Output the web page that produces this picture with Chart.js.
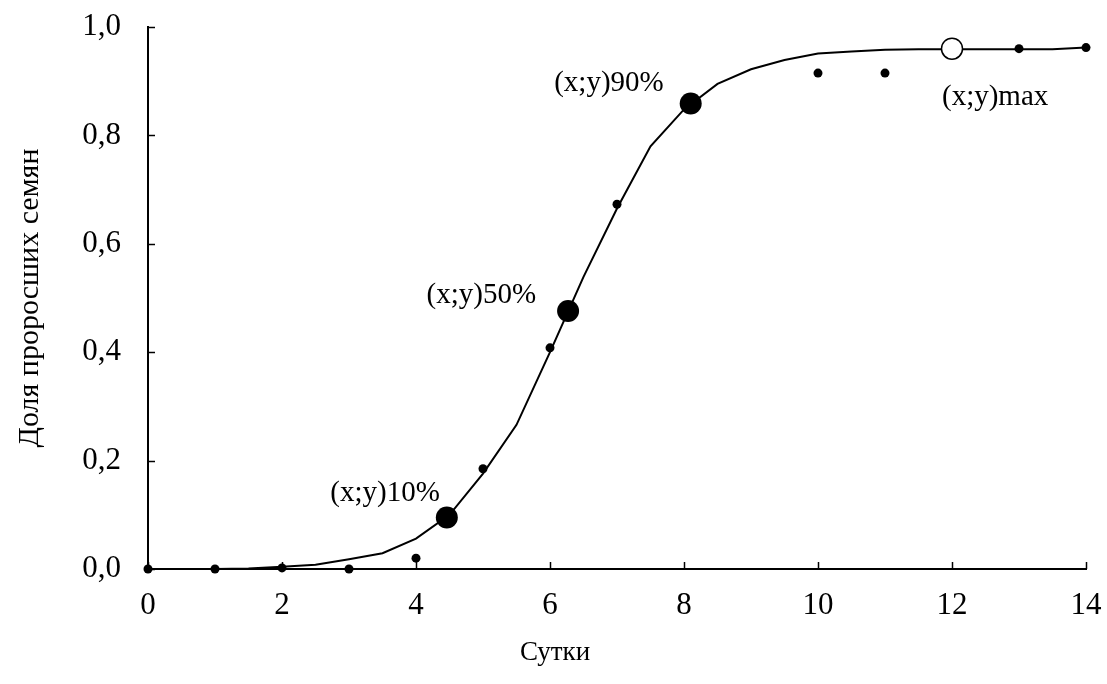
<!DOCTYPE html>
<html>
<head>
<meta charset="utf-8">
<script src="https://cdn.jsdelivr.net/npm/chart.js@4/dist/chart.umd.min.js"></script>
<style>
  html, body { margin: 0; padding: 0; background: #fff; }
  #wrap { width: 1107px; height: 684px; position: relative; }
</style>
</head>
<body>
<div id="wrap"><canvas id="c" width="1107" height="684"></canvas></div>
<script>
// Observed germination share by day
const obsDays  = [0, 1, 2, 3, 4, 5, 6, 7, 10, 11, 13, 14];
const obsShare = [0, 0, 0.002, 0, 0.020, 0.185, 0.408, 0.673, 0.915, 0.915, 0.960, 0.962];

// Fitted curve (half-day nodes)
const fitDays  = [0, 0.5, 1, 1.5, 2, 2.5, 3, 3.5, 4, 4.5, 5, 5.5, 6, 6.5, 7, 7.5,
                  8, 8.5, 9, 9.5, 10, 10.5, 11, 11.5, 12, 12.5, 13, 13.5, 14];
const fitShare = [0, 0, 0, 0.001, 0.004, 0.008, 0.018, 0.029, 0.056, 0.100, 0.176, 0.266,
                  0.400, 0.539, 0.665, 0.780, 0.848, 0.895, 0.922, 0.939, 0.951, 0.955,
                  0.958, 0.959, 0.959, 0.959, 0.959, 0.959, 0.962];

// Characteristic points on the curve
const keyNames = ['(x;y)10%', '(x;y)50%', '(x;y)90%', '(x;y)max'];
const keyDays  = [4.46, 6.27, 8.10, 12.0];
const keyShare = [0.095, 0.476, 0.859, 0.960];

// Axis ticks
const xTickValues = [0, 2, 4, 6, 8, 10, 12, 14];
const yTickValues = [0, 0.2, 0.4, 0.6, 0.8, 1.0];

const FONT = '"Liberation Serif", "Times New Roman", serif';

const pts = (xs, ys) => xs.map((v, i) => ({ x: v, y: ys[i] }));

// label placement relative to its marker: [dx, dy, align]
const labelPlacement = [
  [-7, -24, 'right'],
  [-32, -16, 'right'],
  [-27, -20, 'right'],
  [-10, 49, 'left']
];

const decor = {
  id: 'decor',
  beforeDatasetsDraw(chart) {
    const { ctx, scales: { x, y } } = chart;
    ctx.save();
    ctx.strokeStyle = '#000';
    ctx.lineWidth = 1.5;
    yTickValues.forEach(v => {
      const py = Math.round(y.getPixelForValue(v)) + 0.5;
      ctx.beginPath(); ctx.moveTo(x.left, py); ctx.lineTo(x.left + 7, py); ctx.stroke();
    });
    xTickValues.forEach(v => {
      const px = Math.round(x.getPixelForValue(v)) + 0.5;
      ctx.beginPath(); ctx.moveTo(px, y.bottom); ctx.lineTo(px, y.bottom - 7); ctx.stroke();
    });
    ctx.restore();
  },
  afterDraw(chart) {
    const { ctx, scales: { x, y } } = chart;
    ctx.save();
    ctx.fillStyle = '#000';
    ctx.font = '29px ' + FONT;
    ctx.textBaseline = 'middle';
    keyNames.forEach((t, i) => {
      const [dx, dy, al] = labelPlacement[i];
      ctx.textAlign = al;
      ctx.fillText(t, x.getPixelForValue(keyDays[i]) + dx, y.getPixelForValue(keyShare[i]) + dy);
    });
    // horizontal axis title
    ctx.textAlign = 'center';
    ctx.font = '27px ' + FONT;
    ctx.fillText('Сутки', 555, 653);
    ctx.restore();
  }
};

new Chart(document.getElementById('c'), {
  type: 'scatter',
  data: {
    datasets: [
      {
        type: 'line',
        data: pts(fitDays, fitShare),
        borderColor: '#000',
        borderWidth: 2,
        pointRadius: 0,
        tension: 0,
        fill: false,
        clip: false,
        order: 3
      },
      {
        data: pts(obsDays, obsShare),
        backgroundColor: '#000',
        borderColor: '#000',
        pointRadius: 4.5,
        pointBorderWidth: 0,
        clip: false,
        order: 2
      },
      {
        data: pts(keyDays.slice(0, 3), keyShare.slice(0, 3)),
        backgroundColor: '#000',
        borderColor: '#000',
        pointRadius: 11,
        pointBorderWidth: 0,
        clip: false,
        order: 1
      },
      {
        data: pts(keyDays.slice(3), keyShare.slice(3)),
        backgroundColor: '#fff',
        borderColor: '#000',
        pointRadius: 10.5,
        pointBorderWidth: 1.5,
        clip: false,
        order: 0
      }
    ]
  },
  options: {
    responsive: false,
    animation: false,
    devicePixelRatio: 1,
    layout: { padding: { top: 27, right: 21, left: 0, bottom: 0 } },
    plugins: { legend: { display: false }, tooltip: { enabled: false } },
    scales: {
      x: {
        type: 'linear',
        min: 0, max: 14,
        afterBuildTicks: s => { s.ticks = xTickValues.map(v => ({ value: v })); },
        afterFit: s => { s.height = 115; s.paddingLeft = 0; s.paddingRight = 0; },
        ticks: {
          color: '#000',
          font: { family: FONT, size: 31 },
          padding: 18,
          maxRotation: 0,
          callback: v => String(v)
        },
        grid: { display: false, drawTicks: false },
        border: { display: true, color: '#000', width: 2 }
      },
      y: {
        min: 0, max: 1,
        afterBuildTicks: s => { s.ticks = yTickValues.map(v => ({ value: v })); },
        afterFit: s => { s.width = 148; s.paddingTop = 0; s.paddingBottom = 0; },
        ticks: {
          color: '#000',
          font: { family: FONT, size: 31 },
          padding: 27,
          callback: v => Number(v).toFixed(1).replace('.', ',')
        },
        grid: { display: false, drawTicks: false },
        border: { display: true, color: '#000', width: 2 },
        title: {
          display: true,
          text: 'Доля проросших семян',
          color: '#000',
          font: { family: FONT, size: 30 },
          padding: { top: 12, bottom: 0 }
        }
      }
    }
  },
  plugins: [decor]
});
</script>
</body>
</html>
